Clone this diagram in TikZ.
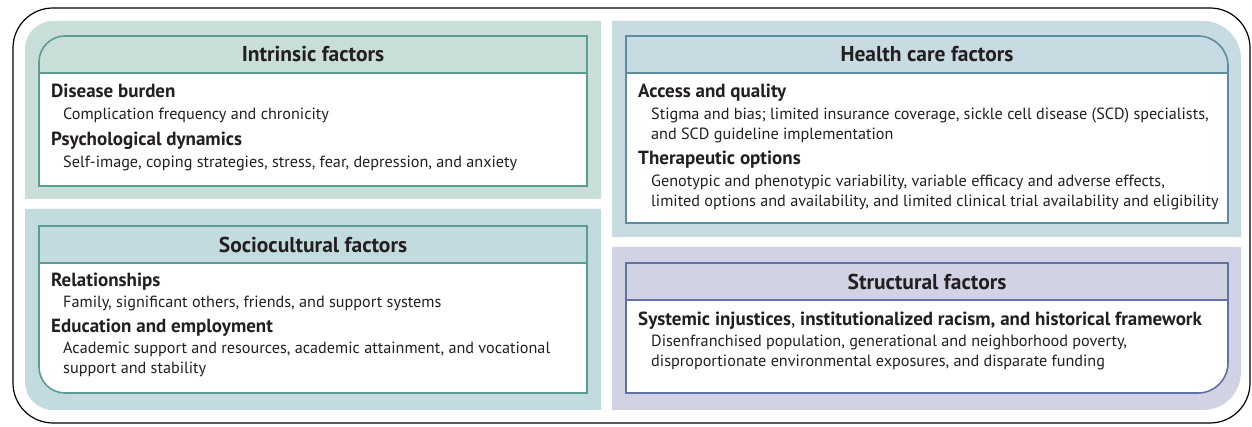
\documentclass[tikz,border=0pt]{standalone}
\usepackage{fontspec}
\setmainfont{PT Sans}
\definecolor{txt}{HTML}{231F20}
\definecolor{intrbg}{HTML}{C9DED8}
\definecolor{intrln}{HTML}{5B9D8F}
\definecolor{sociobg}{HTML}{C1DBDE}
\definecolor{socioln}{HTML}{5A9C90}
\definecolor{healthbg}{HTML}{C8DAE2}
\definecolor{healthln}{HTML}{5E8DA3}
\definecolor{structbg}{HTML}{D1D2E3}
\definecolor{structln}{HTML}{6271A3}
\tikzset{
  boxline/.style={line width=1.6pt},
  title/.style={anchor=base, inner sep=0pt, text=txt, font=\fontsize{21.5}{24}\selectfont\bfseries},
  head/.style={anchor=base west, inner sep=0pt, text=txt, font=\fontsize{19}{22}\selectfont\bfseries},
  desc/.style={anchor=base west, inner sep=0pt, text=txt, align=left, font=\fontsize{16.2}{20}\selectfont},
}
\begin{document}
\begin{tikzpicture}[x=1pt,y=1pt]
\useasboundingbox (0,0) rectangle (1252,427);
% outer frame
\draw[line width=1.2pt, rounded corners=40pt] (13,4) rectangle (1250,419);

% intrinsic factors
\fill[intrbg] (25,228) -- (25,378) arc[start angle=180,end angle=90,radius=28pt] -- (601,406) -- (601,228) -- cycle;
\fill[white] (39,241) rectangle (587,354);
\draw[intrln, boxline] (39,241) -- (39,365) arc[start angle=180,end angle=90,radius=26pt] -- (587,391) -- (587,241) -- cycle;
\draw[intrln, boxline] (39,354) -- (587,354);
\node[title] (intr) at (313,365) {Intrinsic factors};
\node[head] (intr1) at (51,329) {Disease burden};
\node[desc] (intr1d) at (63,307) {Complication frequency and chronicity};
\node[head] (intr2) at (51,281) {Psychological dynamics};
\node[desc] (intr2d) at (63,259) {Self-image, coping strategies, stress, fear, depression, and anxiety};

% sociocultural factors
\fill[sociobg] (25,218) -- (25,45) arc[start angle=180,end angle=270,radius=28pt] -- (601,17) -- (601,218) -- cycle;
\fill[white] (39,164) -- (39,60) arc[start angle=180,end angle=270,radius=26pt] -- (587,34) -- (587,164) -- cycle;
\draw[socioln, boxline] (39,201) -- (39,60) arc[start angle=180,end angle=270,radius=26pt] -- (587,34) -- (587,201) -- cycle;
\draw[socioln, boxline] (39,164) -- (587,164);
\node[title] (socio) at (313,174) {Sociocultural factors};
\node[head] (socio1) at (51,140) {Relationships};
\node[desc] (socio1d) at (63,119) {Family, significant others, friends, and support systems};
\node[head] (socio2) at (51,94) {Education and employment};
\node[desc] (socio2d) at (63,53) {Academic support and resources, academic attainment, and vocational\\support and stability};

% health care factors
\fill[healthbg] (612,190) -- (612,406) -- (1203,406) arc[start angle=90,end angle=0,radius=38pt] -- (1241,190) -- cycle;
\fill[white] (626,204) rectangle (1228,354);
\draw[healthln, boxline] (626,204) -- (626,391) -- (1198,391) arc[start angle=90,end angle=0,radius=30pt] -- (1228,204) -- cycle;
\draw[healthln, boxline] (626,354) -- (1228,354);
\node[title] (health) at (927,365) {Health care factors};
\node[head] (health1) at (638,329) {Access and quality};
\node[desc] (health1d) at (651,287) {Stigma and bias; limited insurance coverage, sickle cell disease (SCD) specialists,\\and SCD guideline implementation};
\node[head] (health2) at (638,262) {Therapeutic options};
\node[desc] (health2d) at (651,220) {Genotypic and phenotypic variability, variable efficacy and adverse effects,\\limited options and availability, and limited clinical trial availability and eligibility};

% structural factors
\fill[structbg] (612,17) -- (612,180) -- (1241,180) -- (1241,55) arc[start angle=0,end angle=-90,radius=38pt] -- cycle;
\fill[white] (626,34) -- (626,127) -- (1228,127) -- (1228,64) arc[start angle=0,end angle=-90,radius=30pt] -- cycle;
\draw[structln, boxline] (626,34) -- (626,164) -- (1228,164) -- (1228,64) arc[start angle=0,end angle=-90,radius=30pt] -- cycle;
\draw[structln, boxline] (626,127) -- (1228,127);
\node[title] (struct) at (927,137) {Structural factors};
\node[head] (struct1) at (638,101) {Systemic injustices{\mdseries,} institutionalized racism, and historical framework};
\node[desc] (struct1d) at (651,60) {Disenfranchised population, generational and neighborhood poverty,\\disproportionate environmental exposures, and disparate funding};
\end{tikzpicture}
\end{document}
